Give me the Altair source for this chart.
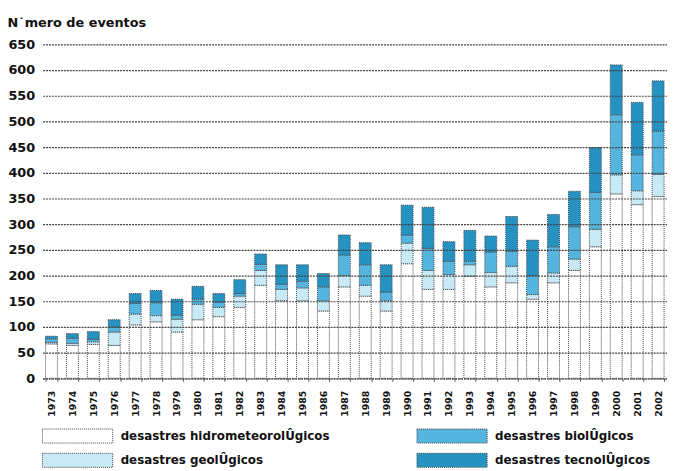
import altair as alt
import pandas as pd

years = [str(y) for y in range(1973, 2003)]
hidro = [67, 64, 66, 64, 104, 110, 90, 114, 120, 138, 181, 151, 151, 131, 178,
         160, 131, 223, 173, 173, 199, 178, 186, 154, 186, 210, 256, 359, 338, 354]
geo = [3, 4, 5, 26, 21, 12, 25, 30, 18, 22, 29, 22, 25, 20, 22,
       21, 20, 40, 37, 29, 22, 28, 32, 9, 19, 22, 34, 37, 27, 43]
bio = [7, 10, 5, 10, 21, 25, 8, 10, 10, 5, 12, 10, 13, 27, 40,
       40, 17, 16, 43, 26, 7, 40, 29, 37, 51, 63, 72, 117, 70, 84]
tec = [5, 9, 15, 14, 19, 24, 31, 25, 17, 27, 20, 38, 32, 26, 39,
       43, 53, 58, 80, 38, 60, 31, 68, 69, 63, 69, 87, 97, 102, 98]

cats = ["desastres hidrometeorolÛgicos", "desastres geolÛgicos",
        "desastres biolÛgicos", "desastres tecnolÛgicos"]
series = [hidro, geo, bio, tec]
colors = ["#ffffff", "#c8eaf6", "#56b5df", "#2692c2"]
y_ticks = list(range(0, 651, 50))

rows = []
for i, yr in enumerate(years):
    for k, (c, vals) in enumerate(zip(cats, series)):
        rows.append({"ano": yr, "tipo": c, "valor": vals[i], "orden": k})
df = pd.DataFrame(rows)

FONT = "DejaVu Sans"

chart = alt.Chart(df).mark_bar(
    stroke="#444444", strokeWidth=1, strokeDash=[1, 1]
).encode(
    x=alt.X("ano:N", title=None,
            scale=alt.Scale(paddingInner=0.43, paddingOuter=0.14),
            axis=alt.Axis(labelAngle=270, labelAlign="right", labelBaseline="middle",
                          labelFont=FONT, labelFontSize=9.5, labelFontWeight="bold",
                          labelColor="#111111", labelPadding=9,
                          tickBand="extent", tickSize=3, tickColor="#555555",
                          domainColor="#555555", domainDash=[1, 1], domainWidth=1.2)),
    y=alt.Y("valor:Q", stack="zero",
            scale=alt.Scale(domain=[0, 650], nice=False),
            axis=alt.Axis(values=y_ticks, title="N˙mero de eventos",
                          titleAngle=0, titleAlign="left", titleBaseline="middle",
                          titleX=-36, titleY=-22, titleFont=FONT, titleFontSize=13,
                          titleFontWeight="bold", titleColor="#111111",
                          labelFont=FONT, labelFontSize=13, labelFontWeight="bold",
                          labelColor="#111111", labelPadding=8,
                          ticks=False, domain=False,
                          grid=True, gridColor="#444444", gridDash=[2, 1],
                          gridWidth=1.2, zindex=1)),
    color=alt.Color("tipo:N",
                    scale=alt.Scale(domain=cats, range=colors),
                    legend=alt.Legend(title=None, orient="none", legendX=-1, legendY=388,
                                      columns=2, columnPadding=85, rowPadding=5,
                                      symbolType="M-1,-1H9V1H-1Z", symbolSize=202,
                                      symbolStrokeColor="#444444", symbolStrokeWidth=1,
                                      symbolDash=[1, 1], symbolOpacity=1,
                                      labelFont=FONT, labelFontSize=12,
                                      labelFontWeight="bold", labelColor="#111111",
                                      labelOffset=64, labelLimit=400)),
    order=alt.Order("orden:Q", sort="ascending"),
).properties(
    width=632, height=338,
    autosize=alt.AutoSizeParams(type="none"),
    padding={"left": 35, "top": 34, "right": 0, "bottom": 89},
).configure_view(stroke=None)

chart.save("out.html", embed_options={"renderer": "svg", "actions": False})
